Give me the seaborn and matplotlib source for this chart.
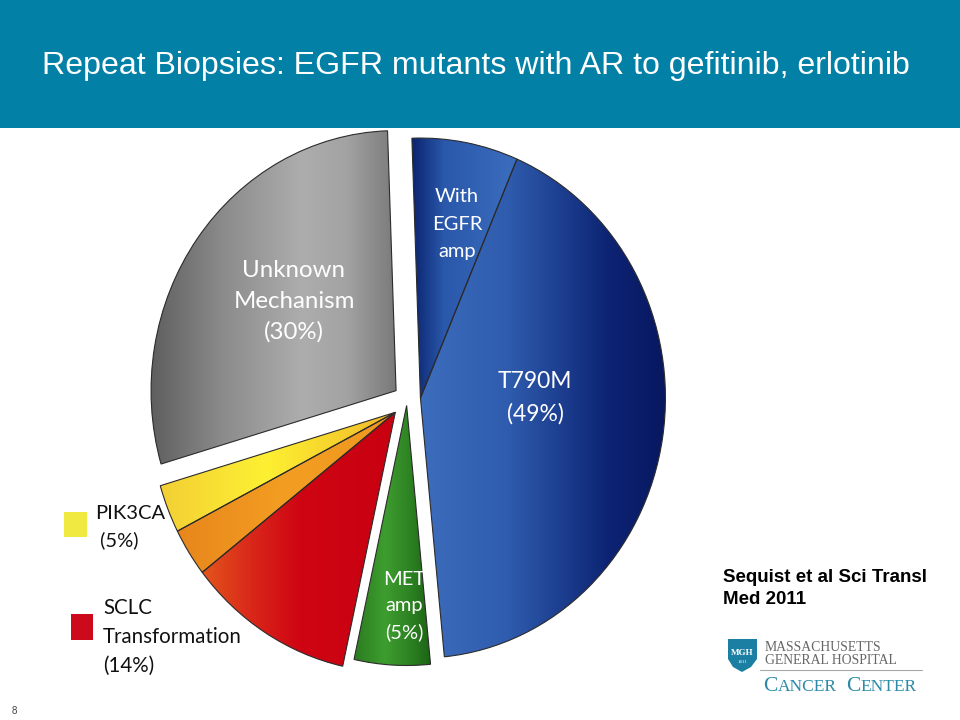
import matplotlib
matplotlib.use("Agg")
import matplotlib.pyplot as plt
import numpy as np
import seaborn as sns
from matplotlib.colors import LinearSegmentedColormap
from matplotlib.patches import Rectangle, Polygon
from matplotlib.lines import Line2D
from matplotlib.offsetbox import TextArea, HPacker, AnchoredOffsetbox

sns.set_theme(style="white")
plt.rcParams["font.family"] = ["Liberation Sans", "DejaVu Sans"]

# slices, clockwise from 12 o'clock (share of repeat biopsies)
mechanisms = ["With EGFR amp", "T790M", "MET amp", "SCLC Transformation",
              "Other", "PIK3CA", "Unknown Mechanism"]
shares = [7, 42, 5, 11, 3, 3, 29]

# slices that are pulled out of the pie together, and how far
groups = [[0, 1], [2], [3, 4, 5], [6]]
group_pull = [0.055, 0.025, 0.07, 0.055]

# left -> right shading of each slice
slice_shading = [
    [(0, "#0a2470"), (0.3, "#2a58aa"), (1, "#3c6ec0")],
    [(0, "#3d6dbd"), (0.35, "#2f5cae"), (0.75, "#0d2474"), (1, "#07165e")],
    [(0, "#2a7c20"), (0.4, "#3e9d2f"), (0.7, "#2f8524"), (1, "#1c6315")],
    [(0, "#e3561c"), (0.25, "#d9281a"), (0.5, "#cf0513"), (1, "#c80010")],
    [(0, "#e8861c"), (0.5, "#f39e22"), (1, "#ef961f")],
    [(0, "#f3cf35"), (0.45, "#fdf032"), (0.75, "#f6d22d"), (1, "#f1b62a")],
    [(0, "#5d5d5d"), (0.3, "#8b8b8b"), (0.62, "#adadad"), (0.8, "#a3a3a3"), (1, "#7a7a7a")],
]

W, H = 960, 720
HEADER = "#0280a6"


def fx(x):
    return x / W


def fy(y):
    return 1 - y / H


def shade(ax, wedge, stops):
    cmap = LinearSegmentedColormap.from_list("shade", stops)
    v = wedge.get_path().vertices
    grad = np.linspace(0, 1, 256).reshape(1, -1)
    im = ax.imshow(grad, cmap=cmap, aspect="auto", interpolation="bicubic",
                   extent=(v[:, 0].min(), v[:, 0].max(), v[:, 1].min(), v[:, 1].max()),
                   zorder=0.5)
    im.set_clip_path(wedge)
    wedge.set_facecolor("none")


fig = plt.figure(figsize=(9.6, 7.2), dpi=100)
fig.patch.set_facecolor("white")

# header band
fig.patches.append(Rectangle((0, fy(128)), 1, 128 / H, transform=fig.transFigure,
                             facecolor=HEADER, edgecolor="none", zorder=0))
fig.text(fx(476), fy(66), "Repeat Biopsies: EGFR mutants with AR to gefitinib, erlotinib",
         color="white", fontsize=23.1, ha="center", va="center")

# pie axes: slightly taller than wide, like the slide
rx, ry, cx, cy, lim = 245, 260, 407, 399, 1.25
ax = fig.add_axes([fx(cx - lim * rx), (H - cy - lim * ry) / H, 2 * lim * rx / W, 2 * lim * ry / H])
wedges, _ = ax.pie(shares, startangle=92, counterclock=False, radius=1,
                   wedgeprops=dict(edgecolor="#2b2b2b", linewidth=0.8))
for members, pull in zip(groups, group_pull):
    t1 = min(wedges[i].theta1 for i in members)
    t2 = max(wedges[i].theta2 for i in members)
    mid = np.deg2rad((t1 + t2) / 2)
    for i in members:
        wedges[i].set_center((pull * np.cos(mid), pull * np.sin(mid)))
for wedge, stops in zip(wedges, slice_shading):
    shade(ax, wedge, stops)
ax.set_xlim(-lim, lim)
ax.set_ylim(-lim, lim)
ax.set_aspect("auto")
ax.axis("off")

# labels inside slices
inner = dict(color="white", family=["Lato", "DejaVu Sans"], ha="center", va="center")
fig.text(fx(457), fy(224), "With\nEGFR\namp", fontsize=14.5, linespacing=1.72, **inner)
fig.text(fx(535), fy(398), "T790M\n(49%)", fontsize=16.5, linespacing=1.6, **inner)
fig.text(fx(294), fy(301.5), "Unknown\nMechanism\n(30%)", fontsize=17.3, linespacing=1.55,
         **inner)
fig.text(fx(404), fy(606), "MET\namp\n(5%)", fontsize=14.5, linespacing=1.66, **inner)

# side keys
outer = dict(color="#111111", family=["Lato", "DejaVu Sans"], ha="left", va="center")
fig.patches.append(Rectangle((fx(64), fy(537)), 23 / W, 25 / H, transform=fig.transFigure,
                             facecolor="#f0e942", edgecolor="none"))
fig.text(fx(95), fy(527.5), "PIK3CA\n (5%)", fontsize=14.5, linespacing=1.62, **outer)
fig.patches.append(Rectangle((fx(71), fy(640)), 22 / W, 26 / H, transform=fig.transFigure,
                             facecolor="#cd0a1b", edgecolor="none"))
fig.text(fx(103), fy(637), "SCLC\nTransformation\n(14%)", fontsize=14.8, linespacing=1.56,
         **outer)

# citation
fig.text(fx(723), fy(588.5), "Sequist et al Sci Transl\nMed 2011", fontsize=13.5,
         fontweight="bold", color="black", ha="left", va="center", linespacing=1.45)

# MGH logo
shield = [(728, 639), (757, 639), (757, 659), (751, 667), (742, 672), (733, 667), (728, 659)]
fig.patches.append(Polygon([(fx(x), fy(y)) for x, y in shield], closed=True,
                           transform=fig.transFigure, facecolor="#1b7fa3", edgecolor="none"))
fig.text(fx(742.5), fy(653), "MGH", color="white", fontsize=6.5, fontweight="bold",
         family="Liberation Serif", ha="center", va="center")
fig.text(fx(742.5), fy(662), "1811", color="white", fontsize=3.5,
         family="Liberation Serif", ha="center", va="center")
serif_grey = dict(color="#666666", family="Liberation Serif", fontsize=9.9, ha="left",
                  va="baseline")
fig.text(fx(765), fy(651), "MASSACHUSETTS", **serif_grey)
fig.text(fx(765), fy(664), "GENERAL HOSPITAL", **serif_grey)
fig.add_artist(Line2D([fx(760), fx(922)], [fy(670), fy(670)], transform=fig.transFigure,
                      color="#a8a8a8", linewidth=0.8))

teal = "#2a8aa8"
words = []
for word in ["CANCER", "CENTER"]:
    words.append(HPacker(children=[
        TextArea(word[0], textprops=dict(color=teal, family="Liberation Serif", fontsize=15.5)),
        TextArea(word[1:], textprops=dict(color=teal, family="Liberation Serif", fontsize=12.5)),
    ], align="baseline", pad=0, sep=0))
logo = AnchoredOffsetbox(loc="lower left", child=HPacker(children=words, align="baseline",
                                                         pad=0, sep=7),
                         bbox_to_anchor=(fx(763), fy(696)), bbox_transform=fig.transFigure,
                         frameon=False, pad=0, borderpad=0)
fig.add_artist(logo)

fig.text(fx(14), fy(711), "8", fontsize=7, color="#444444", ha="center", va="center")

fig.savefig("out.png", dpi=100, facecolor="white")
